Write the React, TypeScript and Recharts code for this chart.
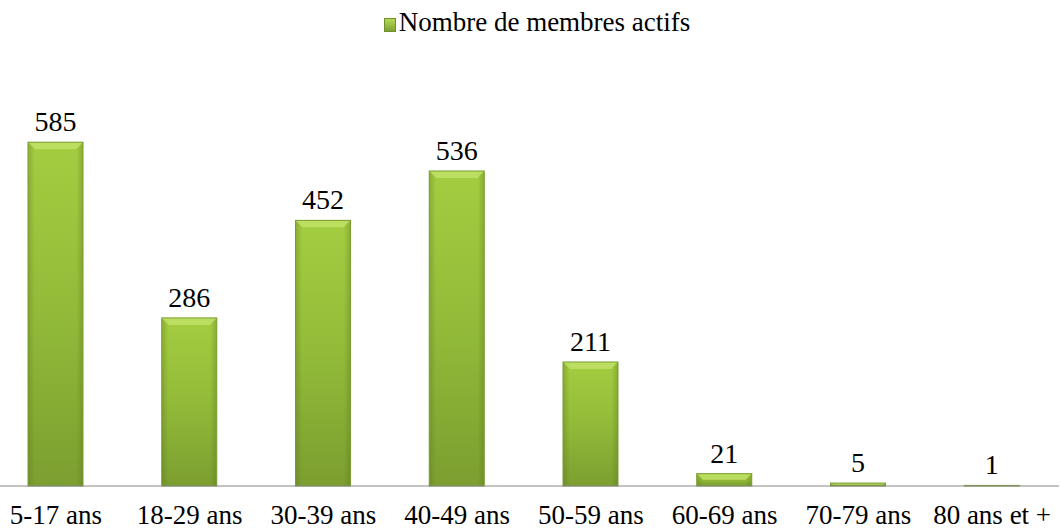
import React from 'react';
import { BarChart, Bar, XAxis, YAxis, Legend, LabelList } from 'recharts';

const ageGroups = ['5-17 ans', '18-29 ans', '30-39 ans', '40-49 ans', '50-59 ans', '60-69 ans', '70-79 ans', '80 ans et +'];
const activeMembers = [585, 286, 452, 536, 211, 21, 5, 1];
const seriesName = 'Nombre de membres actifs';

const data = ageGroups.map((age, i) => ({ age, members: activeMembers[i] }));

const FONT = '"Liberation Serif", "Times New Roman", Times, serif';

const AgeTick = (props: any) => {
  const { x, y, payload } = props;
  return (
    <text x={x} y={y + 38} textAnchor="middle" fill="#000" style={{ fontFamily: FONT, fontSize: 27 }}>
      {payload.value}
    </text>
  );
};

// bevelled bar: vertical body gradient, darker side edges, light top chamfer
const BevelBar = (props: any) => {
  const { x, y, width, height } = props;
  if (!height || height <= 0) return null;
  const b = Math.min(7, height / 2);
  return (
    <g>
      <rect x={x} y={y} width={width} height={height} fill="url(#barFill)" />
      <rect x={x} y={y} width={width} height={height} fill="url(#barSides)" />
      <polygon
        points={`${x},${y} ${x + width},${y} ${x + width - b},${y + b} ${x + b},${y + b}`}
        fill="#bfe266"
        opacity={0.85}
      />
      <rect x={x} y={y} width={width} height={height} fill="none" stroke="#7a9c30" strokeWidth={1} />
    </g>
  );
};

const LegendBox = () => (
  <div style={{ height: 99, paddingLeft: 26, textAlign: 'center', fontFamily: FONT, fontSize: 27, lineHeight: '34px', color: '#000' }}>
    <span
      style={{
        display: 'inline-block',
        width: 12,
        height: 14,
        marginRight: 3,
        verticalAlign: -1,
        background: 'linear-gradient(#b3da55, #7fa333)',
        border: '1px solid #6f8f2c',
        boxSizing: 'border-box',
      }}
    />
    {seriesName}
  </div>
);

export default function App() {
  return (
    <div style={{ position: 'absolute', left: -11, top: 0 }}>
      <BarChart width={1070} height={529} data={data} margin={{ top: 5, right: 0, left: 0, bottom: 0 }} barSize={55}>
        <defs>
          <linearGradient id="barFill" x1="0" y1="0" x2="0" y2="1">
            <stop offset="0%" stopColor="#a9d243" />
            <stop offset="50%" stopColor="#96bf3a" />
            <stop offset="100%" stopColor="#7ea131" />
          </linearGradient>
          <linearGradient id="barSides" x1="0" y1="0" x2="1" y2="0">
            <stop offset="0%" stopColor="#4f6a1c" stopOpacity={0.35} />
            <stop offset="12%" stopColor="#4f6a1c" stopOpacity={0.05} />
            <stop offset="88%" stopColor="#4f6a1c" stopOpacity={0.05} />
            <stop offset="100%" stopColor="#4f6a1c" stopOpacity={0.35} />
          </linearGradient>
        </defs>
        <XAxis
          dataKey="age"
          axisLine={{ stroke: '#868686', strokeWidth: 1 }}
          tickLine={false}
          tickSize={0}
          tickMargin={0}
          height={43}
          interval={0}
          tick={<AgeTick />}
        />
        <YAxis hide domain={[0, 650]} />
        <Legend verticalAlign="top" align="center" content={<LegendBox />} />
        <Bar dataKey="members" name={seriesName} fill="#96bf3a" shape={<BevelBar />} isAnimationActive={false}>
          <LabelList dataKey="members" position="top" offset={11} fill="#000" style={{ fontFamily: FONT, fontSize: 28 }} />
        </Bar>
      </BarChart>
    </div>
  );
}
